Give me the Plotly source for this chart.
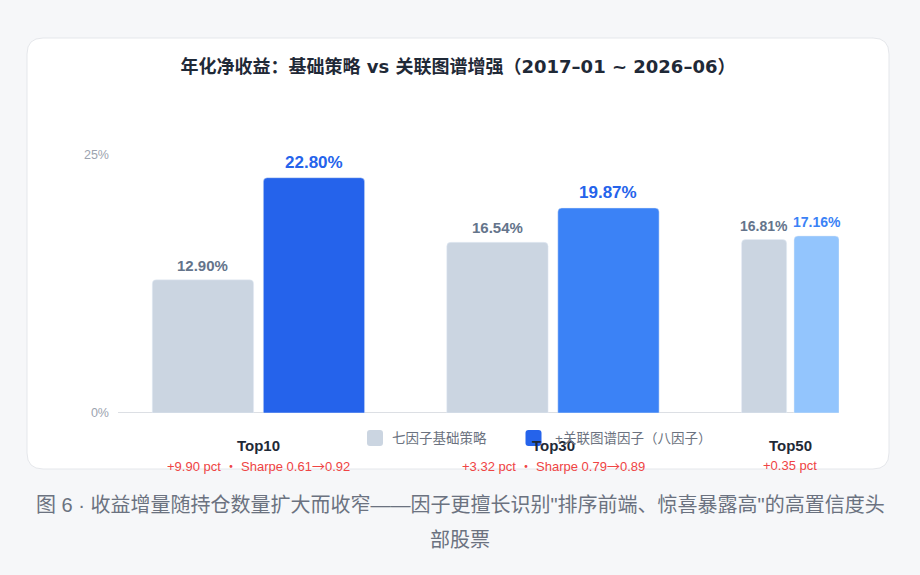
import plotly.graph_objects as go

# 数据
categories = ["Top10", "Top30", "Top50"]
base_values = [12.90, 16.54, 16.81]
enh_values = [22.80, 19.87, 17.16]
delta_labels = ["+9.90 pct ・ Sharpe 0.61→0.92", "+3.32 pct ・ Sharpe 0.79→0.89", "+0.35 pct"]
base_name = "七因子基础策略"
enh_name = "+关联图谱因子（八因子）"
y_ticks = [0, 25]
y_tick_labels = ["0%", "25%"]
title_text = "年化净收益：基础策略 vs 关联图谱增强（2017–01 ~ 2026–06）"
caption_lines = [
    "图 6 · 收益增量随持仓数量扩大而收窄——因子更擅长识别\"排序前端、惊喜暴露高\"的高置信度头",
    "部股票",
]

# 样式
W, H = 920, 575
FONT = "Liberation Sans, Arial, Noto Sans CJK SC, sans-serif"
TITLE_FONT = "DejaVu Sans, Noto Sans CJK SC, sans-serif"
base_color = "#cbd5e1"
enh_colors = ["#2563eb", "#3b82f6", "#93c5fd"]
enh_label_colors = ["#2563eb", "#2563eb", "#3b82f6"]
base_offset = [-0.361, -0.361, -0.360]
base_width = [0.344, 0.344, 0.153]
enh_offset = [0.016, 0.016, -0.182]
enh_width = [0.344, 0.344, 0.153]
group_shift = [0, 0, -0.194]
base_label_size = [15, 15, 14]
enh_label_size = [17, 17, 14]


def px_x(x):
    return x / W


def px_y(y):
    return (H - y) / H


def round_rect(x0, y0, x1, y1, r):
    # 圆角矩形（像素 -> paper 坐标）
    pts = [
        ("M", x0 + r, y0), ("L", x1 - r, y0), ("Q", x1, y0, x1, y0 + r),
        ("L", x1, y1 - r), ("Q", x1, y1, x1 - r, y1),
        ("L", x0 + r, y1), ("Q", x0, y1, x0, y1 - r),
        ("L", x0, y0 + r), ("Q", x0, y0, x0 + r, y0),
    ]
    out = []
    for p in pts:
        cmd, coords = p[0], p[1:]
        xy = []
        for i in range(0, len(coords), 2):
            xy.append(f"{px_x(coords[i]):.5f},{px_y(coords[i + 1]):.5f}")
        out.append(cmd + " " + " ".join(xy))
    return " ".join(out) + " Z"


fig = go.Figure()

fig.add_trace(go.Bar(
    x=categories, y=base_values, name=base_name,
    offset=base_offset, width=base_width,
    marker=dict(color=base_color, cornerradius=4),
    hoverinfo="skip", showlegend=False,
))
fig.add_trace(go.Bar(
    x=categories, y=enh_values, name=enh_name,
    offset=enh_offset, width=enh_width,
    marker=dict(color=enh_colors, cornerradius=4),
    hoverinfo="skip", showlegend=False,
))

arrow = "<span style='font-family:Noto Sans CJK SC'>→</span>"
annotations = []
for i, cat in enumerate(categories):
    annotations.append(dict(
        x=i + base_offset[i] + base_width[i] / 2, y=base_values[i],
        xref="x", yref="y", yanchor="bottom", yshift=4, showarrow=False,
        text=f"{base_values[i]:.2f}%",
        font=dict(size=base_label_size[i], color="#64748b", family=FONT, weight=600),
    ))
    annotations.append(dict(
        x=i + enh_offset[i] + enh_width[i] / 2, y=enh_values[i],
        xref="x", yref="y", yanchor="bottom", yshift=4, showarrow=False,
        text=f"{enh_values[i]:.2f}%",
        font=dict(size=enh_label_size[i], color=enh_label_colors[i], family=FONT, weight=700),
    ))
    annotations.append(dict(
        x=i + group_shift[i], y=px_y(445), xref="x", yref="paper",
        yanchor="middle", showarrow=False, text=cat,
        font=dict(size=15, color="#1f2937", family=FONT, weight=600),
    ))
    annotations.append(dict(
        x=i + group_shift[i], y=px_y(465), xref="x", yref="paper",
        yanchor="middle", showarrow=False, text=delta_labels[i].replace("→", arrow),
        font=dict(size=13, color="#ef4444", family=FONT),
    ))

# 图例（手绘，方块 16px）
legend_items = [(base_name, base_color, 367, 390), (enh_name, enh_colors[0], 525.5, 553)]
shapes = [
    dict(type="path", xref="paper", yref="paper", layer="below",
         path=round_rect(27, 38, 889, 469, 16),
         fillcolor="#ffffff", line=dict(color="#e5e7eb", width=1)),
    dict(type="line", xref="paper", yref="y", layer="below",
         x0=px_x(118), x1=px_x(820), y0=0, y1=0,
         line=dict(color="#d1d5db", width=1.5)),
]
for name, color, sx, tx in legend_items:
    shapes.append(dict(type="path", xref="paper", yref="paper", layer="above",
                       path=round_rect(sx, 430, sx + 16, 446, 3),
                       fillcolor=color, line=dict(width=0)))
    annotations.append(dict(
        x=px_x(tx), y=px_y(438), xref="paper", yref="paper",
        xanchor="left", yanchor="middle", showarrow=False, text=name,
        font=dict(size=13.5, color="#6b7280", family=FONT),
    ))

# 图注
for k, line in enumerate(caption_lines):
    annotations.append(dict(
        x=0.5, y=px_y(505 + 35 * k), xref="paper", yref="paper",
        yanchor="middle", showarrow=False, text=line,
        font=dict(size=20, color="#6b7280", family=FONT),
    ))

fig.update_layout(
    width=W, height=H,
    margin=dict(l=0, r=0, t=0, b=0, autoexpand=False),
    paper_bgcolor="#f6f7f9",
    plot_bgcolor="rgba(0,0,0,0)",
    barmode="overlay",
    showlegend=False,
    font=dict(family=FONT),
    title=dict(
        text=title_text, x=458 / W, xanchor="center",
        yref="paper", y=px_y(67), yanchor="middle",
        font=dict(size=18, color="#1f2937", family=TITLE_FONT, weight=700),
    ),
    xaxis=dict(
        type="category", domain=[px_x(118), px_x(839)],
        range=[-0.4774, 1.9708], showticklabels=False, automargin=False,
        showgrid=False, zeroline=False, showline=False, ticks="",
    ),
    yaxis=dict(
        domain=[px_y(413), px_y(155)], range=[0, 25], automargin=False,
        tickvals=y_ticks, ticktext=y_tick_labels, showgrid=False, zeroline=False,
        showline=False, ticks="", ticklabelstandoff=8,
        tickfont=dict(size=12.5, color="#9ca3af", family=FONT),
    ),
    annotations=annotations,
    shapes=shapes,
)

fig.write_html(
    "out.html",
    config={"displayModeBar": False},
    post_script=(
        "document.body.style.margin='0';"
        "document.body.style.overflow='hidden';"
        "document.documentElement.style.overflow='hidden';"
    ),
)
